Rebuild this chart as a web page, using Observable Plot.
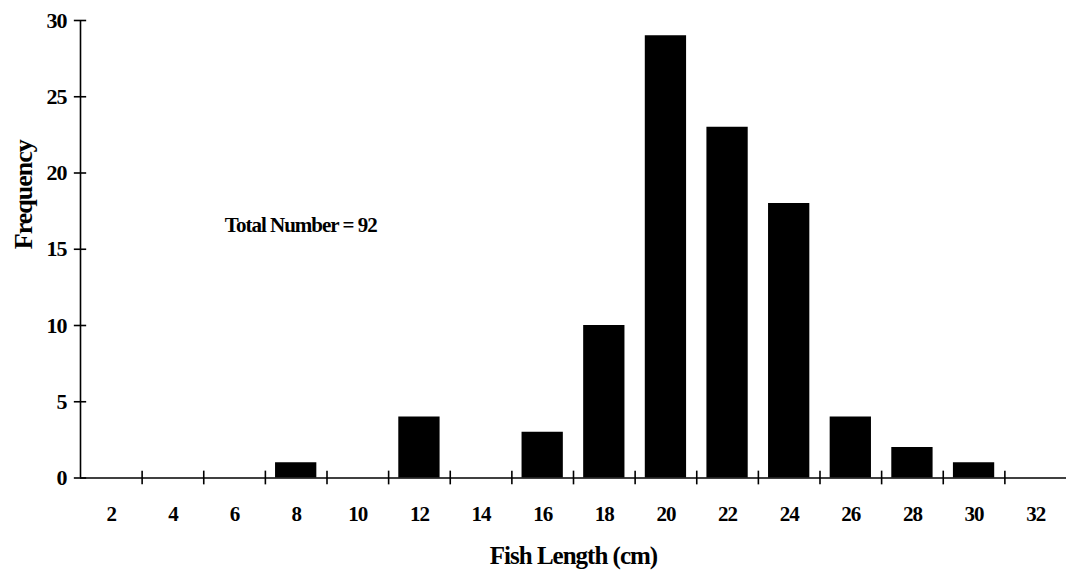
<!DOCTYPE html>
<html>
<head>
<meta charset="utf-8">
<script src="https://cdn.jsdelivr.net/npm/d3@7"></script>
<script src="https://cdn.jsdelivr.net/npm/@observablehq/plot@0.6"></script>
<style>
  html, body { margin: 0; padding: 0; background: #fff; }
  #chart svg { display: block; }
</style>
</head>
<body>
<div id="chart"></div>
<script>
// Data
const lengths = [2, 4, 6, 8, 10, 12, 14, 16, 18, 20, 22, 24, 26, 28, 30, 32];
const freqs   = [0, 0, 0, 1, 0, 4, 0, 3, 10, 29, 23, 18, 4, 2, 1, 0];
const yTicks  = [0, 5, 10, 15, 20, 25, 30];
const xBoundaries = [1, 3, 5, 7, 9, 11, 13, 15, 17, 19, 21, 23, 25, 27, 29, 31];
const annotation = "Total Number = 92";
const xTitle = "Fish Length (cm)";
const yTitle = "Frequency";

const data = lengths.map((len, i) => ({len, freq: freqs[i]}));
const halfBar = 0.67;

const font = "'Liberation Serif', 'Times New Roman', serif";

const chart = Plot.plot({
  width: 1068,
  height: 570,
  marginLeft: 80,
  marginRight: 2,
  marginTop: 20,
  marginBottom: 92.5,
  style: {fontFamily: font, fontWeight: "bold", fontSize: "20px", background: "#fff", color: "#000"},
  x: {type: "linear", domain: [1, 33], axis: null},
  y: {type: "linear", domain: [0, 30], axis: null},
  marks: [
    Plot.rectY(data.filter(d => d.freq > 0), {
      x1: d => d.len - halfBar, x2: d => d.len + halfBar, y: "freq", fill: "#000"
    }),
    // axis lines
    Plot.ruleY([0], {x1: 1, x2: 33, stroke: "#000", strokeWidth: 1.6}),
    Plot.ruleX([1], {y1: 0, y2: 30, stroke: "#000", strokeWidth: 1.6}),
    // x tick marks at category boundaries (crossing the axis)
    Plot.ruleX(xBoundaries.slice(1), {y1: -0.45, y2: 0.45, stroke: "#000", strokeWidth: 1.6}),
    // y tick marks (crossing the axis)
    Plot.ruleY(yTicks, {x1: 0.8, x2: 1.2, stroke: "#000", strokeWidth: 1.6}),
    // y tick labels
    Plot.text(yTicks, {x: 1, y: d => d, text: d => String(d), dx: -14, textAnchor: "end",
      lineAnchor: "middle", fontSize: 22}),
    // x tick labels
    Plot.text(lengths, {x: d => d, y: 0, text: d => String(d), dy: 36, lineAnchor: "middle",
      fontSize: 21}),
    // axis titles
    Plot.text([xTitle], {frameAnchor: "bottom", dy: 78, lineAnchor: "middle", fontSize: 25}),
    Plot.text([yTitle], {frameAnchor: "left", dx: -57, rotate: -90, lineAnchor: "middle", fontSize: 26}),
    // annotation
    Plot.text([annotation], {x: 8.15, y: 16.6, lineAnchor: "middle", fontSize: 21})
  ]
});

// tighten letter spacing to mimic the condensed bold scan
chart.querySelectorAll("text").forEach(t => t.setAttribute("letter-spacing", "-1"));
document.getElementById("chart").appendChild(chart);
</script>
</body>
</html>
